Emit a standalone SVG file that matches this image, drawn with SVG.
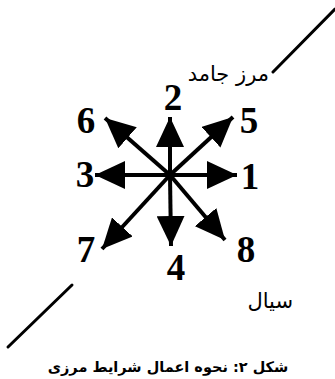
<svg xmlns="http://www.w3.org/2000/svg" width="335" height="379" viewBox="0 0 335 379">
<style>
.bd{stroke:#000;stroke-width:3;stroke-linecap:round;fill:none}
.ar{stroke:#000;stroke-width:4;fill:none;marker-end:url(#head)}
.num{font-family:"Liberation Serif","Times New Roman",serif;font-weight:bold;font-size:37px;fill:#000;text-anchor:middle}
.fa{font-family:"DejaVu Sans",sans-serif;fill:#000;direction:rtl}
</style>
<defs>
<marker id="head" markerUnits="userSpaceOnUse" markerWidth="30" markerHeight="28" refX="30" refY="14" orient="auto" viewBox="0 0 30 28">
<path d="M0,0 L30,14 L0,28 Z" fill="#000"/>
</marker>
</defs>
<rect width="335" height="379" fill="#fff"/>
<g id="boundaries">
<line class="bd" x1="335" y1="9" x2="273" y2="72"/>
<line class="bd" x1="72" y1="285" x2="8" y2="347"/>
</g>
<g id="connectors">
<line class="ar" x1="170" y1="175" x2="237" y2="175"/>
<line class="ar" x1="170" y1="175" x2="95" y2="175"/>
<line class="ar" x1="170" y1="175" x2="170" y2="117"/>
<line class="ar" x1="170" y1="175" x2="171" y2="246"/>
<line class="ar" x1="170" y1="175" x2="233" y2="117"/>
<line class="ar" x1="170" y1="175" x2="105" y2="118"/>
<line class="ar" x1="170" y1="175" x2="102" y2="249"/>
<line class="ar" x1="170" y1="175" x2="225" y2="240"/>
</g>
<g id="n1"><text class="num" x="250" y="189">1</text></g>
<g id="n2"><text class="num" x="173" y="110">2</text></g>
<g id="n3"><text class="num" x="85" y="187">3</text></g>
<g id="n4"><text class="num" x="176" y="280">4</text></g>
<g id="n5"><text class="num" x="249" y="133">5</text></g>
<g id="n6"><text class="num" x="86" y="133">6</text></g>
<g id="n7"><text class="num" x="86" y="262">7</text></g>
<g id="n8"><text class="num" x="246" y="262">8</text></g>
<g id="solid"><text class="fa" x="269" y="81" font-size="21">مرز جامد</text></g>
<g id="fluid"><text class="fa" x="293" y="308" font-size="21">سیال</text></g>
<g id="caption"><text class="fa" x="168" y="372" font-size="14.5" font-weight="bold" text-anchor="middle">شکل ۲: نحوه اعمال شرایط مرزی</text></g>
</svg>
